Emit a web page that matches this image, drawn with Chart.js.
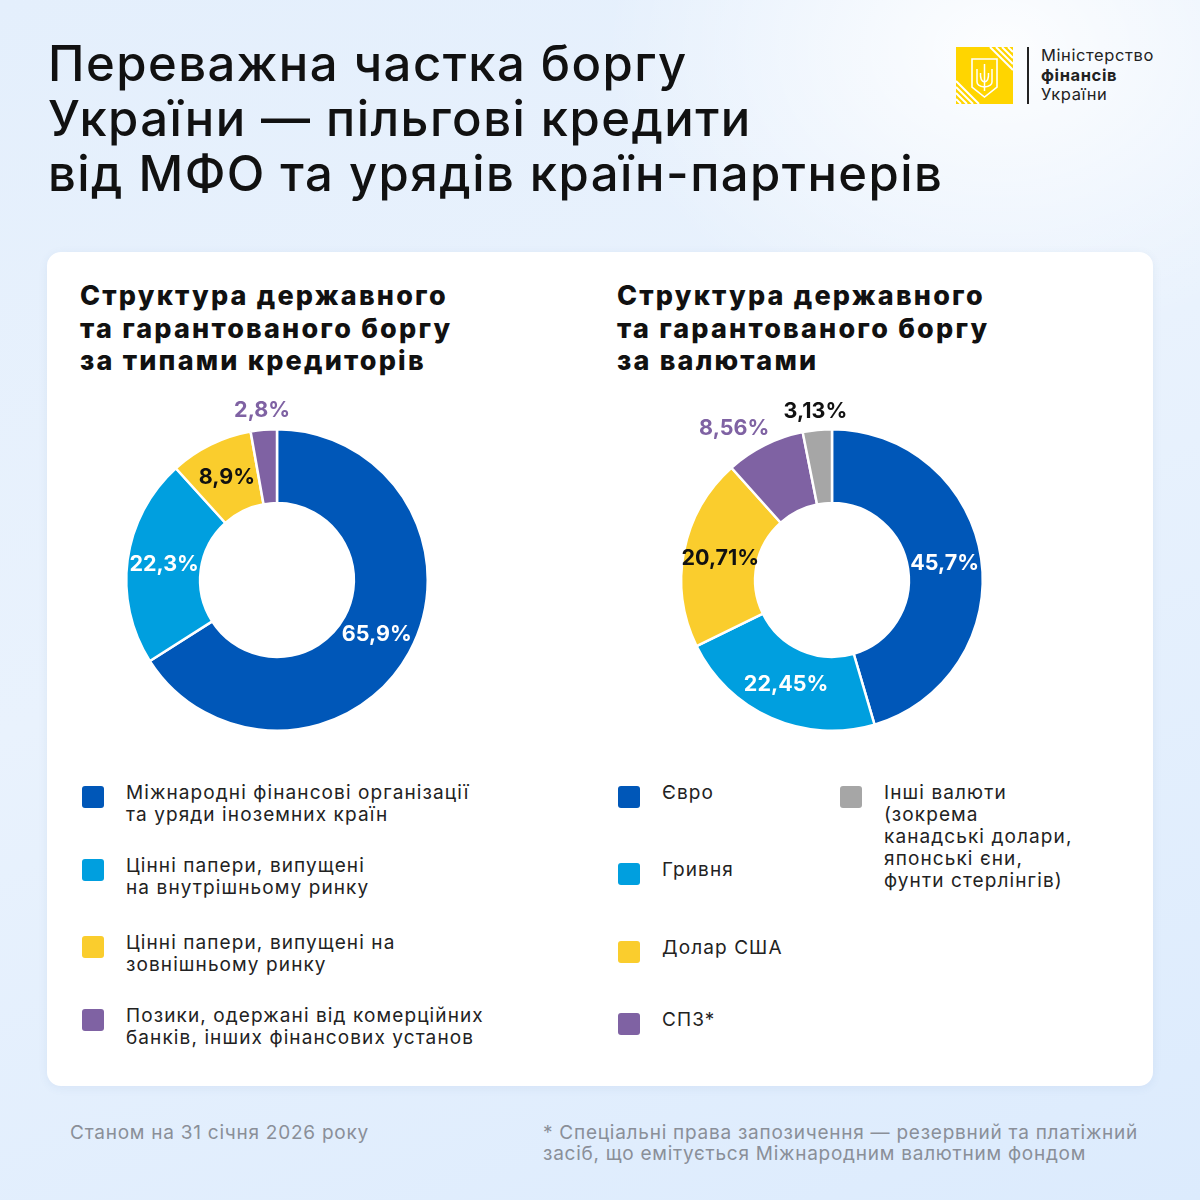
<!DOCTYPE html>
<html lang="uk">
<head>
<meta charset="utf-8">
<script src="https://cdn.jsdelivr.net/npm/chart.js@4"></script>
<style>
  body {
    margin: 0;
    width: 1200px;
    height: 1200px;
    position: relative;
    overflow: hidden;
    font-family: Inter, "Noto Sans", sans-serif;
    color: #111;
    background: linear-gradient(160deg, #e4effc 0%, #e9f2fd 45%, #dcebfd 100%);
  }
  .glow {
    position: absolute; right: -200px; top: -250px; width: 800px; height: 600px;
    background: radial-gradient(ellipse at center, rgba(255,255,255,0.9) 0%, rgba(255,255,255,0) 70%);
  }
  h1 {
    position: absolute; left: 48px; top: 36px; margin: 0;
    font-size: 49px; line-height: 55px; font-weight: 500; letter-spacing: 1.45px;
    color: #111;
  }
  .logo { position: absolute; left: 956px; top: 47px; }
  .logo-line { position: absolute; left: 1027px; top: 47px; width: 1.5px; height: 57px; background: #222; }
  .logo-text {
    position: absolute; left: 1041px; top: 46px;
    font-size: 16.5px; line-height: 19.5px; color: #222; letter-spacing: 0.6px;
  }
  .card {
    position: absolute; left: 47px; top: 252px; width: 1106px; height: 834px;
    background: #fff; border-radius: 14px;
    box-shadow: 0 2px 10px rgba(60,100,160,0.08);
  }
  h2 {
    position: absolute; margin: 0; top: 280px;
    font-size: 27px; line-height: 32.5px; font-weight: 800; letter-spacing: 2.2px; color: #111;
  }
  .chartbox { position: absolute; width: 360px; height: 360px; }
  .leg { position: absolute; font-size: 19px; line-height: 22px; letter-spacing: 1.1px; color: #222; }
  .leg .sw { position: absolute; left: 0; top: 4px; width: 22px; height: 22px; border-radius: 3px; }
  .leg .tx { position: absolute; left: 44px; top: 0; white-space: nowrap; }
  .foot { position: absolute; font-size: 19px; line-height: 21px; color: #8a8f98; letter-spacing: 0.75px; white-space: nowrap; }
</style>
</head>
<body>
<div class="glow"></div>
<h1>Переважна частка боргу<br>України — пільгові кредити<br>від МФО та урядів країн-партнерів</h1>

<svg class="logo" width="57" height="57" viewBox="0 0 57 57">
  <rect width="57" height="57" fill="#ffd500"/>
  <g stroke="#fff" stroke-width="2" fill="none">
    <path d="M40 0 L57 17 M46 0 L57 11 M52 0 L57 5 M34 0 L57 23"/>
    <path d="M0 40 L17 57 M0 46 L11 57 M0 52 L5 57 M0 34 L23 57"/>
    <path d="M16 12 H41 V40 L28.5 50 L16 40 Z" stroke-width="1.6"/>
    <path d="M28.5 17 V40 M21 22 V35 Q21 39 28.5 40 Q36 39 36 35 V22 M24.5 26 Q24 34 28.5 35 Q33 34 32.5 26" stroke-width="1.5"/>
    <path d="M28.5 40 V44" stroke-width="1.5"/>
  </g>
</svg>
<div class="logo-line"></div>
<div class="logo-text">Міністерство<br><b>фінансів</b><br>України</div>

<div class="card"></div>

<h2 style="left:80px">Структура державного<br>та гарантованого боргу<br>за типами кредиторів</h2>
<h2 style="left:617px">Структура державного<br>та гарантованого боргу<br>за валютами</h2>

<div class="chartbox" style="left:97px; top:400px"><canvas id="creditorsChart"></canvas></div>
<div class="chartbox" style="left:652px; top:400px"><canvas id="currencyChart"></canvas></div>

<div id="legendLeft"></div>
<div id="legendRight"></div>

<div class="foot" style="left:70px; top:1122px">Станом на 31 січня 2026 року</div>
<div class="foot" style="left:543px; top:1122px">* Спеціальні права запозичення — резервний та платіжний<br>засіб, що емітується Міжнародним валютним фондом</div>

<script>
// data
const creditorLabels = [
  "Міжнародні фінансові організації\nта уряди іноземних країн",
  "Цінні папери, випущені\nна внутрішньому ринку",
  "Цінні папери, випущені на\nзовнішньому ринку",
  "Позики, одержані від комерційних\nбанків, інших фінансових установ",
];
const creditorShares = [65.9, 22.3, 8.9, 2.8];

const currencyLabels = [
  "Євро",
  "Гривня",
  "Долар США",
  "СПЗ*",
  "Інші валюти\n(зокрема\nканадські долари,\nяпонські єни,\nфунти стерлінгів)",
];
const currencyShares = [45.7, 22.45, 20.71, 8.56, 3.13];

const blue = "#0057b8";
const lightBlue = "#009fdf";
const yellow = "#facd2d";
const purple = "#7f62a3";
const grey = "#a6a6a6";

const creditorColors = [blue, lightBlue, yellow, purple];
const currencyColors = [blue, lightBlue, yellow, purple, grey];

// percent labels on the arcs
const arcLabels = {
  id: "arcLabels",
  afterDatasetsDraw(chart, args, opts) {
    const ctx = chart.ctx;
    const meta = chart.getDatasetMeta(0);
    const values = chart.data.datasets[0].data;
    ctx.save();
    ctx.font = "700 21.5px Inter, 'Noto Sans', sans-serif";
    ctx.textAlign = "center";
    ctx.textBaseline = "middle";
    meta.data.forEach((arc, i) => {
      const p = arc.getProps(["x", "y", "startAngle", "endAngle", "innerRadius", "outerRadius"], true);
      const mid = (p.startAngle + p.endAngle) / 2;
      const outside = opts.outside[i];
      const r = outside ? p.outerRadius + 19 : (p.innerRadius + p.outerRadius) / 2;
      const dx = outside && opts.shift ? opts.shift[i] : 0;
      ctx.fillStyle = opts.colors[i];
      ctx.fillText(
        String(values[i]).replace(".", ",") + "%",
        p.x + Math.cos(mid) * r + dx,
        p.y + Math.sin(mid) * r
      );
    });
    ctx.restore();
  },
};

function makeDoughnut(id, values, colors, labelOpts) {
  new Chart(document.getElementById(id), {
    type: "doughnut",
    data: {
      labels: values.map((v) => v + "%"),
      datasets: [
        {
          data: values,
          backgroundColor: colors,
          borderColor: "#ffffff",
          borderWidth: 2.5,
        },
      ],
    },
    options: {
      responsive: true,
      maintainAspectRatio: false,
      animation: false,
      cutout: "51%",
      layout: { padding: 28 },
      plugins: {
        legend: { display: false },
        tooltip: { enabled: false },
        arcLabels: labelOpts,
      },
    },
    plugins: [arcLabels],
  });
}

makeDoughnut("creditorsChart", creditorShares, creditorColors, {
  colors: ["#fff", "#fff", "#111", purple],
  outside: [false, false, false, true],
});
makeDoughnut("currencyChart", currencyShares, currencyColors, {
  colors: ["#fff", "#fff", "#111", purple, "#111"],
  outside: [false, false, false, true, true],
  shift: [0, 0, 0, -22, 0],
});

// html legends
function buildLegend(el, labels, colors, items) {
  items.forEach((pos, i) => {
    const d = document.createElement("div");
    d.className = "leg";
    d.style.left = pos[0] + "px";
    d.style.top = pos[1] + "px";
    d.innerHTML =
      '<div class="sw" style="background:' + colors[i] + '"></div>' +
      '<div class="tx">' + labels[i].replace(/\n/g, "<br>") + "</div>";
    el.appendChild(d);
  });
}
buildLegend(document.getElementById("legendLeft"), creditorLabels, creditorColors,
  [[82, 782], [82, 855], [82, 932], [82, 1005]]);
buildLegend(document.getElementById("legendRight"), currencyLabels, currencyColors,
  [[618, 782], [618, 859], [618, 937], [618, 1009], [840, 782]]);
</script>
</body>
</html>
